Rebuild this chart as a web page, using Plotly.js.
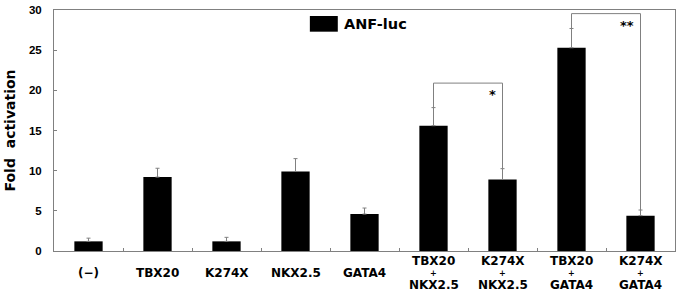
<!DOCTYPE html>
<html>
<head>
<meta charset="utf-8">
<script src="https://cdn.plot.ly/plotly-3.0.1.min.js"></script>
<style>html,body{margin:0;padding:0;background:#fff;}#chart{width:678px;height:293px;}</style>
</head>
<body>
<div id="chart"></div>
<script>
// Categories (keys) and their displayed label lines
const categories = ["(−)", "TBX20", "K274X", "NKX2.5", "GATA4", "TBX20+NKX2.5", "K274X+NKX2.5", "TBX20+GATA4", "K274X+GATA4"];
const labelLines = [["(−)"], ["TBX20"], ["K274X"], ["NKX2.5"], ["GATA4"], ["TBX20", "+", "NKX2.5"], ["K274X", "+", "NKX2.5"], ["TBX20", "+", "GATA4"], ["K274X", "+", "GATA4"]];
// Fold activation (mean) and SD (upper error only)
const foldActivation = [1.2, 9.2, 1.2, 9.9, 4.6, 15.6, 8.9, 25.3, 4.4];
const errorUp = [0.4, 1.1, 0.5, 1.6, 0.75, 2.25, 1.35, 2.4, 0.7];
// Significance brackets: pairs of category indices, bracket level, label
const bracketLeft = [5, 7];
const bracketRight = [6, 8];
const bracketLevel = [20.9, 29.55];
const bracketLabel = ["*", "**"];
const seriesName = "ANF-luc";
const yTicks = [0, 5, 10, 15, 20, 25, 30];

const gray = "#808080";
const FONT = "DejaVu Sans";

const trace = {
  type: "bar",
  x: categories,
  y: foldActivation,
  width: 0.41,
  marker: {color: "#000000", line: {width: 0}},
  error_y: {type: "data", symmetric: false, array: errorUp, arrayminus: errorUp.map(() => 0), color: gray, thickness: 1, width: 2},
  showlegend: false,
  hoverinfo: "none"
};

const shapes = [];
const annotations = [];
for (let i = 0; i < bracketLeft.length; i++) {
  const a = bracketLeft[i], b = bracketRight[i], lv = bracketLevel[i];
  const topA = foldActivation[a] + errorUp[a];
  const topB = foldActivation[b] + errorUp[b];
  const ln = {color: gray, width: 1};
  shapes.push({type: "line", xref: "x", yref: "y", x0: categories[a], x1: categories[a], y0: topA, y1: lv, line: ln});
  shapes.push({type: "line", xref: "x", yref: "y", x0: categories[a], x1: categories[b], y0: lv, y1: lv, line: ln});
  shapes.push({type: "line", xref: "x", yref: "y", x0: categories[b], x1: categories[b], y0: lv, y1: topB, line: ln});
  annotations.push({xref: "x", yref: "y", x: categories[b], y: lv, text: "<b>" + bracketLabel[i] + "</b>", showarrow: false,
    xanchor: "right", yanchor: "top", xshift: -5, yshift: -2, font: {family: FONT, size: 13, color: "#000000"}});
}
// legend swatch + text
shapes.push({type: "rect", xref: "paper", yref: "paper", x0: 0.412, x1: 0.457, y0: 0.91, y1: 0.975, fillcolor: "#000", line: {width: 0}});
annotations.push({xref: "paper", yref: "paper", x: 0.463, y: 0.942, xanchor: "left", yanchor: "middle", showarrow: false,
  text: "<b>" + seriesName + "</b>", font: {family: FONT, size: 14.5, color: "#000"}});

// y-axis title
annotations.push({xref: "paper", yref: "paper", x: 0, y: 0.5, xshift: -45, xanchor: "center", yanchor: "middle", textangle: -90,
  showarrow: false, text: "<b>Fold  activation</b>", font: {family: FONT, size: 14, color: "#000"}});

// x tick labels as stacked lines
labelLines.forEach((lines, i) => {
  const n = lines.length;
  lines.forEach((t, j) => {
    const shift = n === 1 ? -22 : [-10, -22, -34][j];
    const size = t === "+" ? 8 : 12;
    annotations.push({xref: "x", yref: "paper", x: categories[i], y: 0, yanchor: "middle", xanchor: "center",
      yshift: shift, showarrow: false, text: "<b>" + t + "</b>",
      font: {family: FONT, size: size, color: "#000"}});
  });
});

const layout = {
  width: 678, height: 293,
  margin: {l: 54, r: 3, t: 10, b: 42},
  paper_bgcolor: "#fff", plot_bgcolor: "#fff",
  xaxis: {type: "category", range: [-0.5, 8.5], showticklabels: false, tickson: "boundaries", ticks: "inside", ticklen: 3,
    tickcolor: gray, showline: true, linecolor: gray, linewidth: 1, mirror: true, showgrid: false, zeroline: false, fixedrange: true},
  yaxis: {range: [0, 30], tickvals: yTicks, ticktext: yTicks.map(v => "<b>" + v + "</b>"), ticks: "inside", ticklen: 3, tickcolor: gray,
    showline: true, linecolor: gray, linewidth: 1, mirror: true, showgrid: false, zeroline: false, ticklabelstandoff: 9,
    tickfont: {family: "Liberation Sans", size: 11.5, color: "#000"}},
  shapes: shapes,
  annotations: annotations,
  showlegend: false
};

Plotly.newPlot("chart", [trace], layout, {displayModeBar: false, staticPlot: true});
</script>
</body>
</html>
